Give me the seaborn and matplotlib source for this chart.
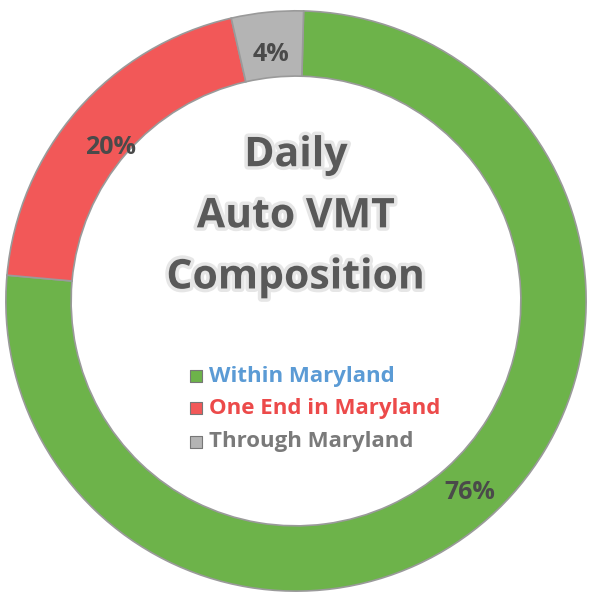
"""Daily auto VMT composition donut"""

import matplotlib
matplotlib.use("Agg")
import matplotlib.pyplot as plt
import matplotlib.patheffects as pe
import seaborn as sns
import pandas as pd

sns.set_theme(style="white")
plt.rcParams['font.family'] = ['Open Sans', 'DejaVu Sans']

categories = ['Within Maryland', 'One End in Maryland', 'Through Maryland']
shares = [76, 20, 4]
pct_labels = ['76%', '20%', '4%']

df = pd.DataFrame({'category': categories, 'share': shares, 'label': pct_labels})

COLORS = ['#6db34a', '#f25858', '#b4b4b4']
TEXT_COLORS = ['#5b9bd5', '#ec4a4a', '#7a7a7a']
DARK = '#595959'

fig = plt.figure(figsize=(5.92, 5.96), dpi=100)
ax = fig.add_axes([0.005, 0.0, 0.99, 0.99])

wedges, _ = ax.pie(
    df['share'],
    colors=COLORS,
    startangle=88.5,
    counterclock=False,
    radius=1.0,
    wedgeprops=dict(width=0.225, edgecolor='#9a9a9a', linewidth=1.2))
ax.set_aspect('equal')
ax.set_xlim(-1.01, 1.01)
ax.set_ylim(-1.01, 1.01)

# percentage labels on the ring
label_pos = [(0.60, -0.66), (-0.64, 0.53), (-0.085, 0.85)]
for (x, y), txt in zip(label_pos, df['label']):
    ax.text(x, y, txt, ha='center', va='center', fontsize=18,
            fontweight='bold', color='#4a4a4a')

glow = [pe.withStroke(linewidth=5, foreground='#e6e6e6')]
ax.text(0.0, 0.29, 'Daily\nAuto VMT\nComposition', ha='center', va='center',
        fontsize=29.5, fontweight='bold', color=DARK, linespacing=1.65,
        path_effects=glow)

# legend drawn as text rows with square markers
legend_y = [-0.26, -0.37, -0.485]
for y, name, c, tc in zip(legend_y, df['category'], COLORS, TEXT_COLORS):
    ax.scatter([-0.345], [y], marker='s', s=75, color=c,
               edgecolor='#777777', linewidth=0.8, zorder=3)
    ax.text(-0.30, y, name, ha='left', va='center', fontsize=16,
            fontweight='bold', color=tc)

ax.axis('off')
fig.savefig('out.png', dpi=100)
